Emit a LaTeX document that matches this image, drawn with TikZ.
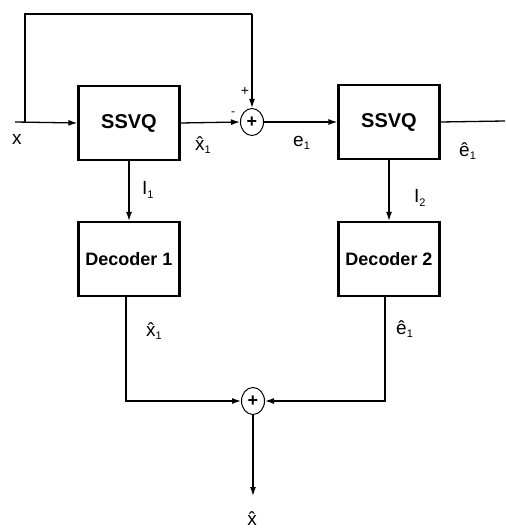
\documentclass[tikz,border=0pt]{standalone}
\usepackage{fontspec}
\setmainfont{Liberation Sans}
\usetikzlibrary{arrows.meta}
\usetikzlibrary{shapes.geometric}
\newcommand{\idx}[1]{\raisebox{-3pt}{\fontsize{11}{11}\selectfont #1}}
\newcommand{\chap}[2]{#1^^^^0302\idx{#2}}
\tikzset{
    bloc/.style={draw, line width=2.2pt, minimum width=101pt, minimum height=74pt, inner sep=0pt},
    somme/.style={draw, ellipse, line width=1pt, minimum width=23pt, minimum height=27pt, inner sep=0pt, font=\fontsize{18}{18}\selectfont\bfseries},
    lien/.style={line width=1.3pt},
    fleche/.style={lien, -{Latex[length=9pt,width=6pt]}},
    lbl/.style={inner sep=0pt, anchor=base west, font=\fontsize{19}{19}\selectfont}
}
\begin{document}
\begin{tikzpicture}[x=1pt, y=-1pt]
\useasboundingbox (0,0) rectangle (505,529);

%%% blocs
\node[bloc, font=\fontsize{20}{20}\selectfont\bfseries] (q1) at (129,123) {SSVQ};
\node[bloc, font=\fontsize{20}{20}\selectfont\bfseries] (q2) at (389,122) {SSVQ};
\node[bloc, font=\fontsize{18}{18}\selectfont\bfseries] (d1) at (129,259) {Decoder 1};
\node[bloc, font=\fontsize{18}{18}\selectfont\bfseries] (d2) at (389,259) {Decoder 2};

%%% sommateurs
\node[somme] (s1) at (252,122) {+};
\node[somme] (s2) at (253,401) {+};

%%% points libres
\coordinate (entree) at (15,122);
\coordinate (bif) at (25,122);
\coordinate (haut) at (252,14);
\coordinate (sortie) at (505,121);
\coordinate (fin) at (253,496);

%%% liens
\draw[fleche] (entree) -- (q1.west);
\draw[lien] (bif) |- (haut);
\draw[fleche] (haut) -- (s1.north);
\draw[fleche] (q1.east) -- (s1.west);
\draw[fleche] (s1.east) -- (q2.west);
\draw[lien] (q2.east) -- (sortie);
\draw[fleche] (q1.south) -- (d1.north);
\draw[fleche] (q2.south) -- (d2.north);
\draw[fleche] ([xshift=-3pt]d1.south) |- (s2.west);
\draw[fleche] ([xshift=-4pt]d2.south) |- (s2.east);
\draw[fleche] (s2.south) -- (fin);

%%% noms
\node[lbl] (nx) at (12,145) {x};
\node[lbl] (nxh1) at (195,151) {\chap{x}{1}};
\node[lbl] (ne1) at (293,147) {e\idx{1}};
\node[lbl] (neh1) at (459,157) {\chap{e}{1}};
\node[lbl] (ni1) at (142,195) {I\idx{1}};
\node[lbl] (ni2) at (414,203) {I\idx{2}};
\node[lbl] (nxh2) at (146,336) {\chap{x}{1}};
\node[lbl] (neh2) at (396,334) {\chap{e}{1}};
\node[lbl, anchor=base] (nxh) at (252,525) {x^^^^0302};
\node[lbl, anchor=center, font=\fontsize{14}{14}\selectfont] (nplus) at (245,91) {+};
\node[lbl, anchor=center, font=\fontsize{12}{12}\selectfont] (nmoins) at (233,114) {-};
\end{tikzpicture}
\end{document}
